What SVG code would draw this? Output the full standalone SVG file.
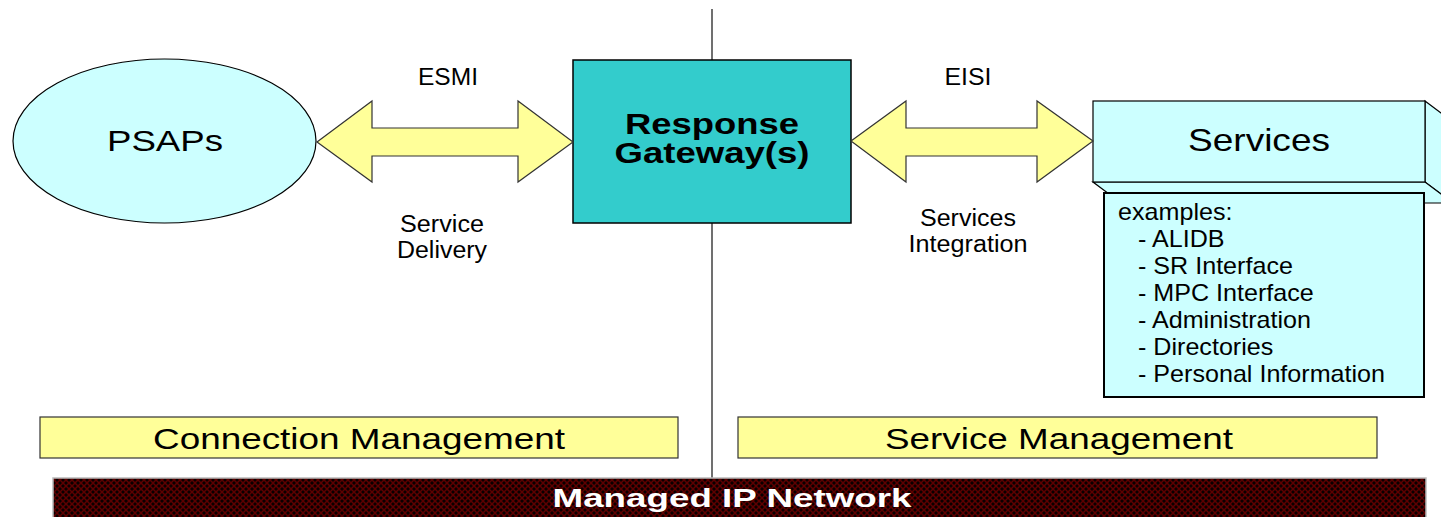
<svg xmlns="http://www.w3.org/2000/svg" width="1441" height="517" viewBox="0 0 1441 517">
<style>
text{font-family:"Liberation Sans",Arial,sans-serif;fill:#000}
.arrow{fill:#FFFF99;stroke:#333;stroke-width:1.2}
.cyan{fill:#CCFFFF;stroke:#000;stroke-width:1.2}
.band{fill:#FFFF99;stroke:#333;stroke-width:1.2}
.lbl{font-size:23px}
.mid{text-anchor:middle}
</style>
<defs>
<pattern id="net" width="6" height="6" patternUnits="userSpaceOnUse">
<rect width="6" height="6" fill="#0a0000"/>
<path d="M0 0L6 6M6 0L0 6" stroke="#5e0000" stroke-width="1.5"/>
</pattern>
</defs>
<line id="divider" x1="712" y1="9" x2="712" y2="478" stroke="#707070" stroke-width="2"/>
<g id="network">
<rect x="53" y="478" width="1373" height="45" fill="url(#net)" stroke="#bbb" stroke-width="1.5"/>
<text x="732" y="507" class="mid" font-size="26" font-weight="bold" style="fill:#fff" textLength="359" lengthAdjust="spacingAndGlyphs">Managed IP Network</text>
</g>
<g id="psaps">
<ellipse cx="164.5" cy="141" rx="151.5" ry="82" class="cyan"/>
<text x="165" y="151" class="mid" font-size="30" textLength="116" lengthAdjust="spacingAndGlyphs">PSAPs</text>
</g>
<g id="gateway">
<rect x="573" y="60" width="278" height="163" fill="#33CCCC" stroke="#000" stroke-width="1.5"/>
<text x="712" y="134" class="mid" font-size="29" font-weight="bold" textLength="174" lengthAdjust="spacingAndGlyphs">Response</text>
<text x="712" y="163" class="mid" font-size="29" font-weight="bold" textLength="195" lengthAdjust="spacingAndGlyphs">Gateway(s)</text>
</g>
<g id="services">
<polygon points="1425,101 1453,122 1453,203 1425,182" class="cyan"/>
<polygon points="1093,182 1425,182 1453,203 1121,203" class="cyan"/>
<rect x="1093" y="101" width="332" height="81" class="cyan"/>
<text x="1259" y="151" class="mid" font-size="32" textLength="142" lengthAdjust="spacingAndGlyphs">Services</text>
</g>
<g id="examples">
<rect x="1104" y="193" width="320" height="204" fill="#CCFFFF" stroke="#000" stroke-width="2"/>
<g transform="translate(1118 0) scale(1.092 1)" font-size="23">
<text x="0" y="220">examples:</text>
<text x="18.3" y="247">- ALIDB</text>
<text x="18.3" y="274">- SR Interface</text>
<text x="18.3" y="301">- MPC Interface</text>
<text x="18.3" y="328">- Administration</text>
<text x="18.3" y="355">- Directories</text>
<text x="18.3" y="382">- Personal Information</text>
</g>
</g>
<g id="connectors">
<polygon class="arrow" points="317,142 372,101 372,128 518,128 518,101 573,142 518,182 518,156 372,156 372,182"/>
<polygon class="arrow" points="851,141 906,101 906,128 1037,128 1037,101 1093,141 1037,182 1037,156 906,156 906,182"/>
<text x="448" y="85" class="mid lbl" textLength="60" lengthAdjust="spacingAndGlyphs">ESMI</text>
<text x="442" y="232" class="mid lbl" textLength="84" lengthAdjust="spacingAndGlyphs">Service</text>
<text x="442" y="258" class="mid lbl" textLength="90" lengthAdjust="spacingAndGlyphs">Delivery</text>
<text x="968" y="85" class="mid lbl" textLength="47" lengthAdjust="spacingAndGlyphs">EISI</text>
<text x="968" y="226" class="mid lbl" textLength="96" lengthAdjust="spacingAndGlyphs">Services</text>
<text x="968" y="252" class="mid lbl" textLength="119" lengthAdjust="spacingAndGlyphs">Integration</text>
</g>
<g id="connection-management">
<rect x="40" y="417" width="638" height="41" class="band"/>
<text x="359" y="449" class="mid" font-size="29" textLength="412" lengthAdjust="spacingAndGlyphs">Connection Management</text>
</g>
<g id="service-management">
<rect x="738" y="417" width="639" height="41" class="band"/>
<text x="1059" y="449" class="mid" font-size="29" textLength="348" lengthAdjust="spacingAndGlyphs">Service Management</text>
</g>
</svg>
